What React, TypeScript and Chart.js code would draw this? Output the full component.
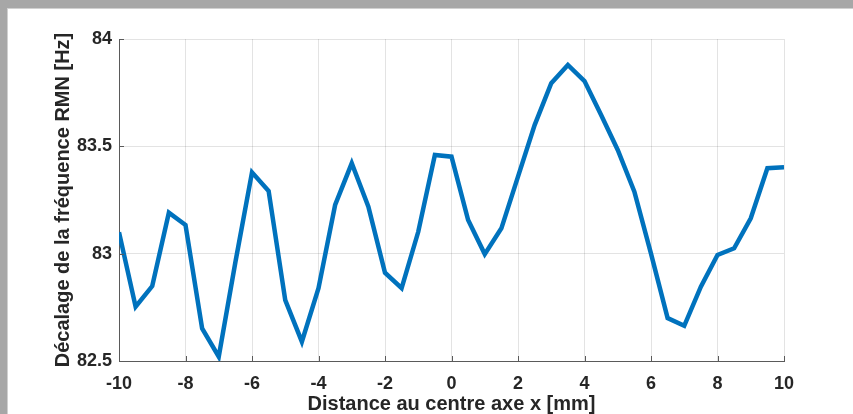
import React, { useEffect, useRef } from "react";
import { Chart, registerables } from "chart.js";

Chart.register(...registerables);

const xValues = [
  -10, -9.5, -9, -8.5, -8, -7.5, -7, -6.5, -6, -5.5, -5, -4.5, -4, -3.5, -3, -2.5, -2, -1.5, -1, -0.5,
  0, 0.5, 1, 1.5, 2, 2.5, 3, 3.5, 4, 4.5, 5, 5.5, 6, 6.5, 7, 7.5, 8, 8.5, 9, 9.5, 10,
];
const shiftValues = [
  83.1, 82.753, 82.849, 83.191, 83.134, 82.652, 82.52, 82.96, 83.379, 83.292, 82.784, 82.59, 82.839, 83.227,
  83.421, 83.219, 82.911, 82.839, 83.102, 83.46, 83.452, 83.157, 82.998, 83.118, 83.359, 83.599, 83.794,
  83.879, 83.804, 83.646, 83.483, 83.289, 83.0, 82.7, 82.664, 82.846, 82.994, 83.025, 83.165, 83.398, 83.402,
];
const xTicks = [-10, -8, -6, -4, -2, 0, 2, 4, 6, 8, 10];
const yTicks = [82.5, 83, 83.5, 84];

const xTitle = "Distance au centre axe x [mm]";
const yTitle = "Décalage de la fréquence RMN [Hz]";

const FONT = "'Liberation Sans', Arial, Helvetica, sans-serif";
const TEXT = "#262626";
const GRID = "rgba(38,38,38,0.13)";
const AXIS = "#5a5a5a";

const inwardTicks = {
  id: "inwardTicks",
  afterDraw(chart: any) {
    const { ctx, chartArea } = chart;
    const xs = chart.scales.x;
    const ys = chart.scales.y;
    ctx.save();
    ctx.strokeStyle = AXIS;
    ctx.lineWidth = 1;
    ctx.beginPath();
    for (const t of xTicks) {
      const px = Math.round(xs.getPixelForValue(t)) + 0.5;
      ctx.moveTo(px, chartArea.bottom);
      ctx.lineTo(px, chartArea.bottom - 5);
    }
    for (const t of yTicks) {
      const py = Math.round(ys.getPixelForValue(t)) + 0.5;
      ctx.moveTo(chartArea.left, py);
      ctx.lineTo(chartArea.left + 5, py);
    }
    ctx.stroke();
    ctx.restore();
  },
};

export default function App() {
  const ref = useRef<HTMLCanvasElement | null>(null);

  useEffect(() => {
    if (!ref.current) return;
    const chart = new Chart(ref.current, {
      type: "line",
      data: {
        datasets: [
          {
            data: xValues.map((x, i) => ({ x, y: shiftValues[i] })),
            borderColor: "#0072BD",
            borderWidth: 4.5,
            pointRadius: 0,
            tension: 0,
            fill: false,
          },
        ],
      },
      options: {
        animation: false,
        responsive: false,
        maintainAspectRatio: false,
        events: [],
        layout: { padding: { top: 39, right: 69, left: 0, bottom: 0 } },
        plugins: { legend: { display: false }, tooltip: { enabled: false } },
        scales: {
          x: {
            type: "linear",
            min: -10,
            max: 10,
            afterBuildTicks: (s: any) => {
              s.ticks = xTicks.map((v) => ({ value: v }));
            },
            afterFit: (s: any) => {
              s.height = 53;
            },
            grid: { color: GRID, drawTicks: false, lineWidth: 1 },
            border: { display: true, color: AXIS, width: 1 },
            ticks: {
              padding: 12,
              color: TEXT,
              font: { family: FONT, size: 18, weight: "bold" },
              callback: (v: any) => String(v),
              maxRotation: 0,
            },
            title: {
              display: true,
              text: xTitle,
              color: TEXT,
              font: { family: FONT, size: 20, weight: "bold", lineHeight: 1 },
              padding: { top: 0, bottom: 0 },
            },
          },
          y: {
            type: "linear",
            min: 82.5,
            max: 84,
            afterBuildTicks: (s: any) => {
              s.ticks = yTicks.map((v) => ({ value: v }));
            },
            afterFit: (s: any) => {
              s.width = 119;
            },
            grid: { color: GRID, drawTicks: false, lineWidth: 1 },
            border: { display: true, color: AXIS, width: 1 },
            ticks: {
              padding: 7,
              color: TEXT,
              font: { family: FONT, size: 18, weight: "bold" },
              callback: (v: any) => String(v),
            },
            title: {
              display: true,
              text: yTitle,
              color: TEXT,
              font: { family: FONT, size: 20, weight: "bold", lineHeight: 1.2 },
              padding: { top: 51, bottom: 0 },
            },
          },
        },
      },
      plugins: [inwardTicks],
    } as any);
    return () => chart.destroy();
  }, []);

  return (
    <div style={{ position: "fixed", left: 0, top: 0, width: 853, height: 414, background: "#a7a7a7", overflow: "hidden" }}>
      <div style={{ position: "absolute", left: 7, top: 8, right: 0, bottom: 0, background: "#ffffff", borderLeft: "1px solid #d0d0d0", borderTop: "1px solid #d0d0d0" }} />
      <canvas ref={ref} width={853} height={414} style={{ position: "absolute", left: 0, top: 0, width: 853, height: 414 }} />
    </div>
  );
}
